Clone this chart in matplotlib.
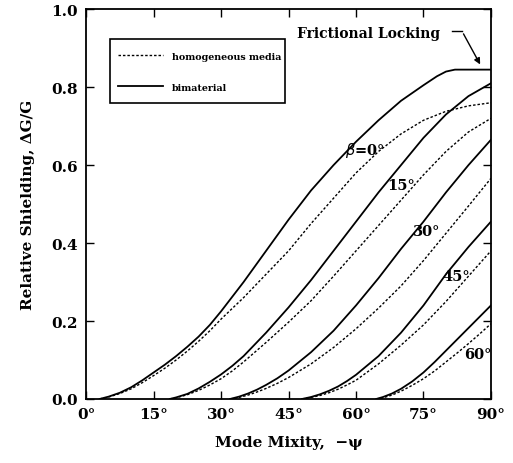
import matplotlib
matplotlib.use("Agg")
import matplotlib.pyplot as plt
from matplotlib.patches import Rectangle

plt.rcParams['font.family'] = ['DejaVu Serif']

# Curvas bimaterial (continua) y medio homogeneo (punteada) para cada beta
x_b0 = [3, 5, 7.5, 10, 12.5, 15, 17.5, 20, 22.5, 25, 27.5, 30, 35, 40, 45, 50, 55, 60, 65, 70, 75, 78, 80, 82, 90]
y_b0 = [0, 0.006, 0.016, 0.03, 0.048, 0.068, 0.088, 0.11, 0.134, 0.16, 0.19, 0.225, 0.30, 0.38, 0.46,
        0.535, 0.60, 0.66, 0.715, 0.765, 0.805, 0.828, 0.84, 0.845, 0.845]
x_h0 = [3, 5, 7.5, 10, 12.5, 15, 17.5, 20, 22.5, 25, 27.5, 30, 35, 40, 45, 50, 55, 60, 65, 70, 75, 80, 85, 90]
y_h0 = [0, 0.005, 0.014, 0.026, 0.042, 0.06, 0.079, 0.10, 0.123, 0.148, 0.175, 0.205, 0.26, 0.32, 0.38,
        0.45, 0.515, 0.58, 0.635, 0.68, 0.715, 0.738, 0.752, 0.76]

x_b15 = [18.6, 20, 22.5, 25, 27.5, 30, 32.5, 35, 40, 45, 50, 55, 60, 65, 70, 75, 80, 85, 90]
y_b15 = [0, 0.004, 0.013, 0.027, 0.044, 0.063, 0.085, 0.11, 0.17, 0.235, 0.305, 0.38, 0.455, 0.53, 0.60,
         0.67, 0.73, 0.777, 0.81]
x_h15 = [18.6, 20, 22.5, 25, 27.5, 30, 32.5, 35, 40, 45, 50, 55, 60, 65, 70, 75, 80, 85, 90]
y_h15 = [0, 0.003, 0.011, 0.022, 0.036, 0.052, 0.072, 0.095, 0.145, 0.197, 0.252, 0.315, 0.38, 0.445, 0.51,
         0.575, 0.635, 0.685, 0.72]

x_b30 = [32, 34, 36, 38, 40, 42.5, 45, 50, 55, 60, 65, 70, 75, 80, 85, 90]
y_b30 = [0, 0.006, 0.014, 0.024, 0.036, 0.053, 0.073, 0.12, 0.175, 0.24, 0.31, 0.385, 0.455, 0.53, 0.60, 0.665]
x_h30 = [32, 34, 36, 38, 40, 42.5, 45, 50, 55, 60, 65, 70, 75, 80, 85, 90]
y_h30 = [0, 0.004, 0.01, 0.018, 0.027, 0.04, 0.055, 0.09, 0.132, 0.18, 0.233, 0.29, 0.355, 0.425, 0.495, 0.566]

x_b45 = [48, 50, 52, 54, 56, 58, 60, 65, 70, 75, 80, 85, 90]
y_b45 = [0, 0.005, 0.012, 0.021, 0.032, 0.046, 0.062, 0.11, 0.17, 0.24, 0.32, 0.39, 0.455]
x_h45 = [48, 50, 52, 54, 56, 58, 60, 65, 70, 75, 80, 85, 90]
y_h45 = [0, 0.004, 0.009, 0.016, 0.025, 0.036, 0.048, 0.09, 0.138, 0.19, 0.25, 0.315, 0.38]

x_b60 = [64.5, 66, 68, 70, 72.5, 75, 77.5, 80, 82.5, 85, 87.5, 90]
y_b60 = [0, 0.005, 0.014, 0.026, 0.045, 0.068, 0.095, 0.124, 0.153, 0.182, 0.211, 0.24]
x_h60 = [64.5, 66, 68, 70, 72.5, 75, 77.5, 80, 82.5, 85, 87.5, 90]
y_h60 = [0, 0.003, 0.01, 0.02, 0.035, 0.052, 0.072, 0.095, 0.118, 0.142, 0.167, 0.193]

# Etiquetas de beta y su posicion
etiquetas = [r'$\beta$=0°', '15°', '30°', '45°', '60°']
pos_etiq = [(62, 0.64), (70, 0.55), (75.7, 0.43), (82.2, 0.316), (87.1, 0.116)]

xticks = [0, 15, 30, 45, 60, 75, 90]
yticks = [0.0, 0.2, 0.4, 0.6, 0.8, 1.0]

fig = plt.figure(figsize=(5.13, 4.64), dpi=100)
ax = fig.add_axes([0.168, 0.138, 0.789, 0.84])

solidas = [(x_b0, y_b0), (x_b15, y_b15), (x_b30, y_b30), (x_b45, y_b45), (x_b60, y_b60)]
punteadas = [(x_h0, y_h0), (x_h15, y_h15), (x_h30, y_h30), (x_h45, y_h45), (x_h60, y_h60)]

estilo_punto = (0, (1.8, 1.4))
for i, ((xs, ys), (xh, yh)) in enumerate(zip(solidas, punteadas)):
    ax.plot(xh, yh, color='black', lw=1.0, ls=estilo_punto,
            label='homogeneous media' if i == 0 else None)
    ax.plot(xs, ys, color='black', lw=1.3, solid_joinstyle='round',
            label='bimaterial' if i == 0 else None)

for texto, (xp, yp) in zip(etiquetas, pos_etiq):
    ax.text(xp, yp, texto, ha='center', va='center', fontsize=10.5, fontweight='bold')

# Flecha de "Frictional Locking"
ax.text(46.8, 0.94, 'Frictional Locking', ha='left', va='center', fontsize=10, fontweight='bold')
ax.plot([81.3, 83.6], [0.943, 0.943], color='black', lw=1.0)
ax.annotate('', xy=(87.9, 0.852), xytext=(83.6, 0.943),
            arrowprops=dict(arrowstyle='-|>', color='black', lw=1.0, mutation_scale=9))

ax.set_xlim(0, 90)
ax.set_ylim(0, 1.0)
ax.set_xticks(xticks)
ax.set_xticklabels([f'{t}°' for t in xticks])
ax.set_yticks(yticks)
ax.set_yticklabels([f'{t:.1f}' for t in yticks])
ax.tick_params(direction='in', length=6, width=1.0, top=True, right=True,
               labelsize=11, pad=6)
for lab in ax.get_xticklabels() + ax.get_yticklabels():
    lab.set_fontweight('bold')
for s in ax.spines.values():
    s.set_linewidth(1.3)

ax.set_xlabel('Mode Mixity,  −ψ', fontsize=11, fontweight='bold', labelpad=10)
ax.set_ylabel('Relative Shielding, ΔG/G', fontsize=11, fontweight='bold', labelpad=12)

# Leyenda sin marco propio; el recuadro se dibuja aparte
leg = ax.legend(loc='upper left', bbox_to_anchor=(0.059, 0.912),
                prop={'weight': 'bold', 'size': 6.8}, frameon=False,
                handlelength=4.8, handletextpad=0.9,
                borderpad=0.85, labelspacing=2.35, borderaxespad=0)
ax.add_patch(Rectangle((0.059, 0.759), 0.432, 0.164, transform=ax.transAxes,
                       fill=False, edgecolor='black', lw=1.2, zorder=5))

plt.savefig('out.png', dpi=100)
